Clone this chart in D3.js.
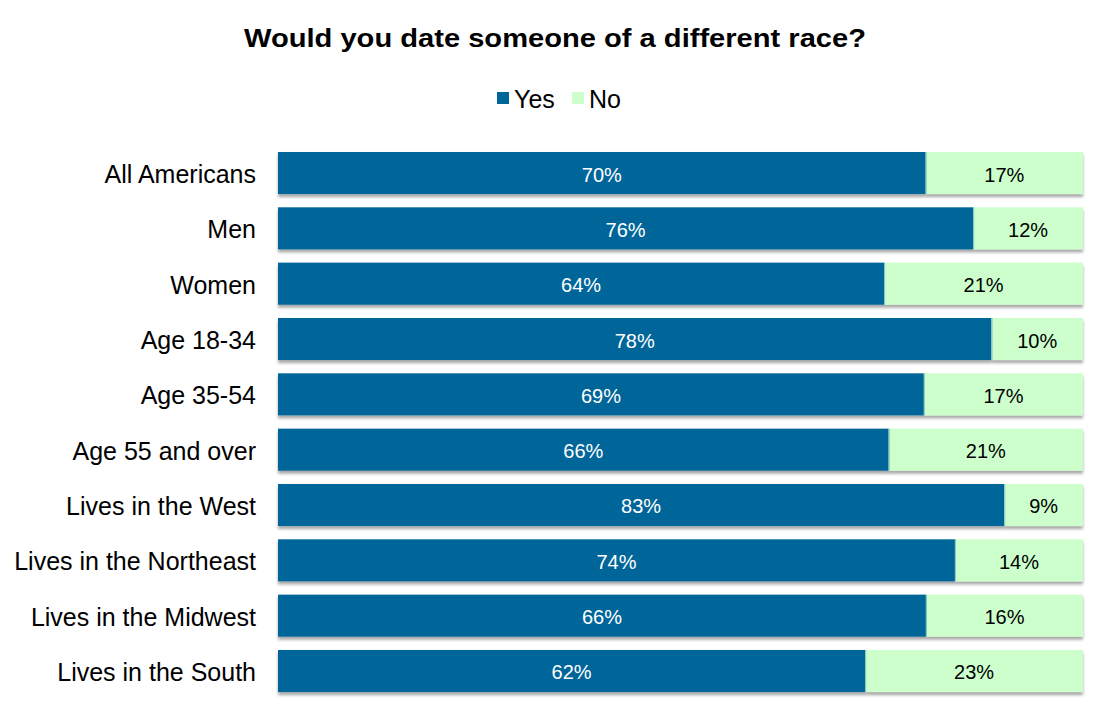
<!DOCTYPE html>
<html><head><meta charset="utf-8">
<script src="https://cdn.jsdelivr.net/npm/d3@7"></script>
<style>body{margin:0;background:#fff}svg{display:block;font-family:"Liberation Sans",Arial,sans-serif}</style>
</head><body>
<svg id="c" width="1110" height="726"></svg>
<script>
const categories = ["All Americans","Men","Women","Age 18-34","Age 35-54","Age 55 and over","Lives in the West","Lives in the Northeast","Lives in the Midwest","Lives in the South"];
const yesValues = [70,76,64,78,69,66,83,74,66,62];
const noValues = [17,12,21,10,17,21,9,14,16,23];
const seriesNames = ["Yes","No"];
const colors = ["#00669A","#CCFFCC"];
const titleText = "Would you date someone of a different race?";

const svg = d3.select("#c");
const defs = svg.append("defs");
const f = defs.append("filter").attr("id","sh").attr("x","-5%").attr("y","-20%").attr("width","110%").attr("height","150%");
f.append("feDropShadow").attr("dx",0).attr("dy",3).attr("stdDeviation",1.6).attr("flood-color","#000").attr("flood-opacity",0.35);

const x = d3.scaleLinear().domain([0,1]).range([278,1083]);
const y = d3.scaleBand().domain(categories).range([138.7,705.3]).paddingInner(0.24).paddingOuter(0.24);

const data = categories.map((c,i)=>({cat:c,yes:yesValues[i],no:noValues[i],tot:yesValues[i]+noValues[i]}));

svg.append("text").attr("x",244).attr("y",47).attr("font-size",25).attr("font-weight","bold")
  .attr("textLength",622).attr("lengthAdjust","spacingAndGlyphs").text(titleText);

// legend
const lg = svg.append("g");
const legX = [497,572];
seriesNames.forEach((s,i)=>{
  lg.append("rect").attr("x",legX[i]).attr("y",92).attr("width",12).attr("height",12).attr("fill",colors[i]);
  lg.append("text").attr("x",legX[i]+17).attr("y",108).attr("font-size",25).text(s);
});

const g = svg.append("g");
const rows = g.selectAll("g.row").data(data).join("g").attr("class","row");
rows.append("g").attr("filter","url(#sh)").each(function(d){
  const gg = d3.select(this);
  gg.append("rect").attr("x",x(0)).attr("y",y(d.cat)).attr("width",x(d.yes/d.tot)-x(0)).attr("height",y.bandwidth()).attr("fill",colors[0]);
  gg.append("rect").attr("x",x(d.yes/d.tot)).attr("y",y(d.cat)).attr("width",x(1)-x(d.yes/d.tot)).attr("height",y.bandwidth()).attr("fill",colors[1]);
});
rows.append("line").attr("x1",d=>x(d.yes/d.tot)+0.5).attr("x2",d=>x(d.yes/d.tot)+0.5).attr("y1",d=>y(d.cat)).attr("y2",d=>y(d.cat)+y.bandwidth()).attr("stroke","#7fc4c0").attr("stroke-width",1);
rows.append("text").attr("x",d=>(x(0)+x(d.yes/d.tot))/2).attr("y",d=>y(d.cat)+y.bandwidth()/2+8.5).attr("text-anchor","middle").attr("font-size",20).attr("fill","#fff").text(d=>d.yes+"%");
rows.append("text").attr("x",d=>(x(d.yes/d.tot)+x(1))/2).attr("y",d=>y(d.cat)+y.bandwidth()/2+8.5).attr("text-anchor","middle").attr("font-size",20).attr("fill","#000").text(d=>d.no+"%");

// category axis
const ax = svg.append("g").attr("transform","translate(278,0)").call(d3.axisLeft(y).tickSize(0).tickPadding(22));
ax.select(".domain").remove();
ax.selectAll("text").attr("font-size",25).attr("font-family","'Liberation Sans',Arial,sans-serif").attr("fill","#000").attr("dy",null).attr("y",10);
</script>
</body></html>
